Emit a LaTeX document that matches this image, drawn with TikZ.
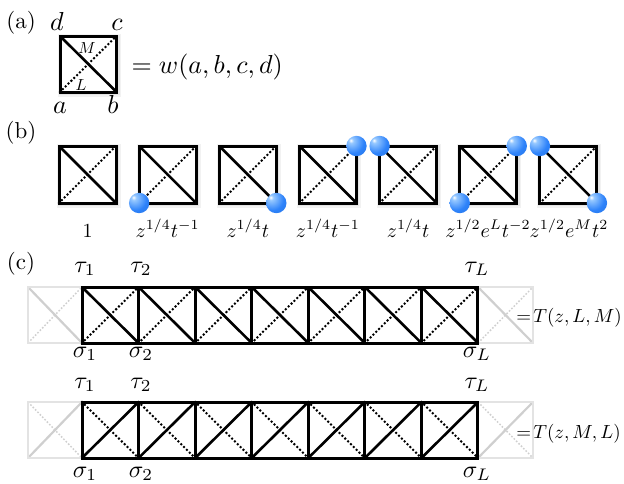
\documentclass[tikz,border=0pt]{standalone}
\definecolor{ballblue}{RGB}{45,130,250}
\definecolor{ballhi}{RGB}{150,200,255}
\pgfdeclareradialshading{myball}{\pgfpoint{-14bp}{14bp}}{%
  color(0bp)=(white); color(6bp)=(ballhi); color(28bp)=(ballblue);
  color(62bp)=(ballblue!85!black); color(100bp)=(ballblue!85!black)}
\newcommand\wcell[5]{% x, y(top), w, h, flip
  \ifnum#5=0
    \draw[ddiag] (#1,#2+#4) -- (#1+#3,#2);
    \draw[sdiag] (#1,#2) -- (#1+#3,#2+#4);
  \else
    \draw[ddiag] (#1,#2) -- (#1+#3,#2+#4);
    \draw[sdiag] (#1,#2+#4) -- (#1+#3,#2);
  \fi
  \draw[edge] (#1,#2) rectangle (#1+#3,#2+#4);}
\newcommand\gcell[6]{% x, y, w, h, flip, open side (0 left,1 right)
  \ifnum#5=0
    \draw[gddiag] (#1,#2+#4) -- (#1+#3,#2);
    \draw[gsdiag] (#1,#2) -- (#1+#3,#2+#4);
  \else
    \draw[gddiag] (#1,#2) -- (#1+#3,#2+#4);
    \draw[gsdiag] (#1,#2+#4) -- (#1+#3,#2);
  \fi
  \ifnum#6=0
    \draw[gedge] (#1+#3,#2) -- (#1,#2) -- (#1,#2+#4) -- (#1+#3,#2+#4);
  \else
    \draw[gedge] (#1,#2) -- (#1+#3,#2) -- (#1+#3,#2+#4) -- (#1,#2+#4);
  \fi}
\newcommand\glow[4]{%
  \fill[black,opacity=0.05] (#1-2.5,#2-2.5) rectangle (#1+#3+4.5,#2+#4+4.5);
  \fill[black,opacity=0.06] (#1-1.5,#2-1.5) rectangle (#1+#3+3,#2+#4+3);
  \fill[white] (#1,#2) rectangle (#1+#3,#2+#4);}
\begin{document}
\begin{tikzpicture}[x=1pt,y=-1pt,
  edge/.style={line width=3pt, line join=miter},
  sdiag/.style={line width=2.6pt},
  ddiag/.style={line width=2.8pt, line cap=round, dash pattern=on 0pt off 4pt},
  gedge/.style={line width=1.3pt, gray!22},
  gsdiag/.style={line width=2.2pt, gray!38},
  gddiag/.style={line width=1.5pt, gray!38, dash pattern=on 1.6pt off 1.8pt},
  plab/.style={scale=2.3, inner sep=0pt, anchor=base},
  clab/.style={scale=2.6, inner sep=0pt, anchor=base},
  slab/.style={scale=1.6, inner sep=0pt},
  blab/.style={scale=2.0, inner sep=0pt, anchor=base},
  tlab/.style={scale=2.4, inner sep=0pt, anchor=base},
  rlab/.style={scale=1.9, inner sep=0pt, anchor=base west},
]
\useasboundingbox (0,0) rectangle (624,483);
% (a)
\node[plab] (pa) at (21,28) {(a)};
\glow{60}{36}{56.5}{56}
\wcell{60}{36}{56.5}{56}{0}
\node[clab] (ld) at (57,30) {$d$};
\node[clab] (lc) at (117,30) {$c$};
\node[clab] (la) at (60,113) {$a$};
\node[clab] (lb) at (113,113) {$b$};
\node[slab] (lM) at (87,48) {$M$};
\node[slab] (lL) at (81,85) {$L$};
\node[clab, anchor=base west] (weq) at (131,73) {$=w(a,b,c,d)$};
% (b)
\node[plab] (pb) at (21,138) {(b)};
\foreach \k in {0,...,6}{
  \pgfmathsetmacro\xx{59+80.15*\k}
  \glow{\xx}{146}{57}{57}
  \wcell{\xx}{146}{57}{57}{0}
}
% balls
\foreach \bx/\by in {139.15/203, 276.3/203, 356.45/146, 379.6/146,
                     459.75/203, 516.75/146, 539.9/146, 596.9/203}{
  \shade[shading=myball] (\bx,\by) circle (10.2pt);
}
\node[blab] (b1) at (87.5,237) {$1$};
\node[blab] (b2) at (167.6,237) {$z^{1/4}t^{-1}$};
\node[blab] (b3) at (247.8,237) {$z^{1/4}t$};
\node[blab] (b4) at (327.9,237) {$z^{1/4}t^{-1}$};
\node[blab] (b5) at (408.1,237) {$z^{1/4}t$};
\node[blab] (b6) at (488,237) {$z^{1/2}e^Lt^{-2}$};
\node[blab] (b7) at (569,237) {$z^{1/2}e^Mt^2$};
% (c)
\node[plab] (pc) at (21,269) {(c)};
% row 1
\gcell{28}{287}{54}{56}{0}{0}
\gcell{478}{287}{55}{56}{0}{1}
\foreach \k in {0,...,6}{
  \pgfmathsetmacro\xx{82+56.57*\k}
  \wcell{\xx}{287}{56.57}{56}{0}
}
\node[tlab] (t1a) at (85,272) {$\tau_1$};
\node[tlab] (t2a) at (141,272) {$\tau_2$};
\node[tlab] (tLa) at (477,272) {$\tau_L$};
\node[tlab] (s1a) at (85,357) {$\sigma_1$};
\node[tlab] (s2a) at (141,357) {$\sigma_2$};
\node[tlab] (sLa) at (477,357) {$\sigma_L$};
\node[rlab] (Ta) at (516,322) {$=\!T(z,L,M)$};
% row 2
\gcell{28}{402}{54}{56}{1}{0}
\gcell{478}{402}{55}{56}{1}{1}
\foreach \k in {0,...,6}{
  \pgfmathsetmacro\xx{82+56.57*\k}
  \wcell{\xx}{402}{56.57}{56}{1}
}
\node[tlab] (t1b) at (85,388) {$\tau_1$};
\node[tlab] (t2b) at (141,388) {$\tau_2$};
\node[tlab] (tLb) at (477,388) {$\tau_L$};
\node[tlab] (s1b) at (85,477) {$\sigma_1$};
\node[tlab] (s2b) at (141,477) {$\sigma_2$};
\node[tlab] (sLb) at (477,477) {$\sigma_L$};
\node[rlab] (Tb) at (516,438) {$=\!T(z,M,L)$};
\end{tikzpicture}
\end{document}
